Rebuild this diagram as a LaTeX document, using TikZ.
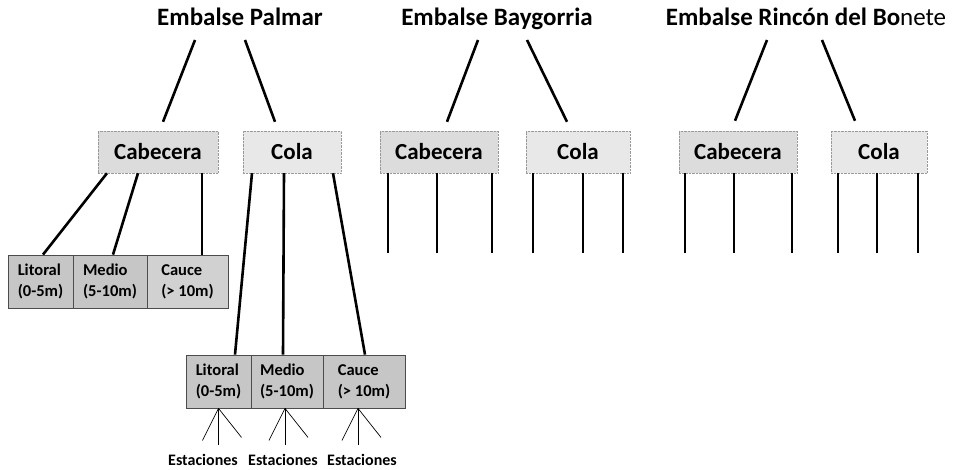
\documentclass[tikz,border=0pt]{standalone}
\usepackage{fontspec}
\setmainfont{Carlito}
\usetikzlibrary{calc}
\definecolor{zonaGray}{RGB}{232,232,232}
\definecolor{zonaDark}{RGB}{220,220,220}
\definecolor{capaGray}{RGB}{198,198,198}
\begin{document}
\begin{tikzpicture}[x=1pt, y=-1pt,
    titulo/.style={font=\fontsize{25}{28}\selectfont\bfseries, inner sep=0pt,
               text height=16pt, text depth=5pt},
    zona/.style={rectangle, draw=gray!80, densely dotted, fill=zonaGray,
               minimum height=42pt, font=\fontsize{23}{26}\selectfont\bfseries,
               inner sep=0pt},
    capa/.style={rectangle, draw=black!70, fill=capaGray, line width=0.8pt,
               minimum height=53pt, font=\fontsize{16.5}{21}\selectfont\bfseries,
               align=left, inner sep=0pt},
    est/.style={font=\fontsize{16}{18}\selectfont\bfseries, inner sep=0pt},
    link/.style={line width=2.6pt},
    fan/.style={line width=0.7pt}
  ]
  \useasboundingbox (0,0) rectangle (954,470);
  % embalses
  \node[titulo] (pal) at (240,20) {Embalse Palmar};
  \node[titulo] (bay) at (497,20) {Embalse Baygorria};
  \node[titulo] (rin) at (806,20) {Embalse Rincón del Bo\mdseries nete};
  % cabecera / cola
  \node[zona, fill=zonaDark, minimum width=120pt] (palcab) at (158,152) {Cabecera};
  \node[zona, minimum width=98pt]  (palcol) at (292,152) {Cola};
  \node[zona, fill=zonaDark, minimum width=118pt] (baycab) at (439,152) {Cabecera};
  \node[zona, minimum width=104pt] (baycol) at (578,152) {Cola};
  \node[zona, fill=zonaDark, minimum width=118pt] (rincab) at (738,152) {Cabecera};
  \node[zona, minimum width=96pt]  (rincol) at (879,152) {Cola};
  \draw[link] ($(pal)+(-45,20)$) -- ($(palcab.north)+(5,-9)$);
  \draw[link] ($(pal)+(5,20)$)   -- ($(palcol.north)+(-17,-9)$);
  \draw[link] ($(bay)+(-19,20)$) -- ($(baycab.north)+(8,-9)$);
  \draw[link] ($(bay)+(30,20)$)  -- ($(baycol.north)+(-11,-9)$);
  \draw[link] ($(rin)+(-39,20)$) -- ($(rincab.north)+(-3,-10)$);
  \draw[link] ($(rin)+(16,20)$)  -- ($(rincol.north)+(-24,-10)$);
  % ramas sin detalle
  \foreach \z/\a/\b/\c in {baycab/-51/-2/53, baycol/-45/5/45,
                           rincab/-53/-4/54, rincol/-41/-2/39}
    \foreach \dx in {\a,\b,\c}
      \draw[link] ($(\z.south)+(\dx,0)$) -- ++(0,80);
  % profundidades cabecera
  \node[capa, minimum width=65pt] (cabLit) at (40.5,281.5) {Litoral\\(0-5m)};
  \node[capa, minimum width=74pt] (cabMed) at (110,281.5) {Medio\\(5-10m)};
  \node[capa, fill=capaGray!80!white, minimum width=81pt] (cabCau) at (187.5,281.5) {Cauce\\(> 10m)};
  \draw[link] ($(palcab.south)+(-51,0)$) -- ($(cabLit.north)+(2.5,0)$);
  \draw[link] ($(palcab.south)+(-20,0)$) -- ($(cabMed.north)+(3,0)$);
  \draw[link] ($(palcab.south)+(44,0)$)  -- ($(cabCau.north)+(14.5,0)$);
  % profundidades cola
  \node[capa, minimum width=65pt] (colLit) at (218.5,381.5) {Litoral\\(0-5m)};
  \node[capa, minimum width=72pt] (colMed) at (287,381.5) {Medio\\(5-10m)};
  \node[capa, minimum width=82pt] (colCau) at (364,381.5) {Cauce\\(> 10m)};
  \draw[link] ($(palcol.south)+(-40,0)$) -- ($(colLit.north)+(16.5,0)$);
  \draw[link] ($(palcol.south)+(-8,0)$)  -- ($(colMed.north)+(-4,0)$);
  \draw[link] ($(palcol.south)+(41,0)$)  -- ($(colCau.north)+(1,0)$);
  % estaciones
  \foreach \c/\dx in {colLit/0, colMed/-2, colCau/-6} {
    \coordinate (\c-top) at ($(\c.south)+(\dx,0)$);
    \draw[fan] (\c-top) -- ++(-16,32);
    \draw[fan] (\c-top) -- ++(0,37);
    \draw[fan] (\c-top) -- ++(23,29);
  }
  \node[est] (est1) at (203,460) {Estaciones};
  \node[est] (est2) at (283,460) {Estaciones};
  \node[est] (est3) at (362,460) {Estaciones};
\end{tikzpicture}
\end{document}
